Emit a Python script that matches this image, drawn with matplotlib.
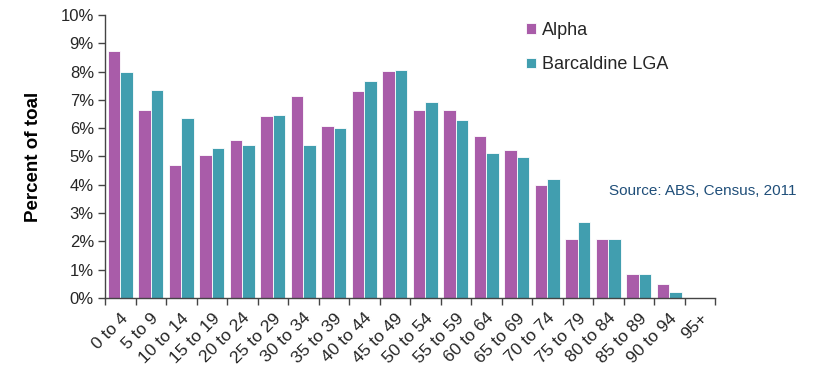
import matplotlib
matplotlib.use("Agg")
import matplotlib.pyplot as plt
import numpy as np
from matplotlib.ticker import FuncFormatter, MultipleLocator

plt.rcParams['font.family'] = ['Liberation Sans', 'DejaVu Sans']

age_groups = ["0 to 4", "5 to 9", "10 to 14", "15 to 19", "20 to 24", "25 to 29",
              "30 to 34", "35 to 39", "40 to 44", "45 to 49", "50 to 54", "55 to 59",
              "60 to 64", "65 to 69", "70 to 74", "75 to 79", "80 to 84", "85 to 89",
              "90 to 94", "95+"]
alpha_pct = [8.72, 6.64, 4.70, 5.05, 5.58, 6.43, 7.14, 6.08, 7.31, 8.02,
             6.64, 6.64, 5.72, 5.23, 3.99, 2.08, 2.08, 0.85, 0.49, 0.0]
barcaldine_pct = [7.98, 7.35, 6.36, 5.30, 5.41, 6.47, 5.41, 6.00, 7.67, 8.06,
                  6.93, 6.29, 5.12, 4.98, 4.20, 2.69, 2.08, 0.85, 0.22, 0.0]

purple = "#A95CA9"
teal = "#419EAF"
text_col = "#262626"

fig = plt.figure(figsize=(8.23, 3.71), dpi=100)
ax = fig.add_axes([0.1276, 0.1968, 0.7412, 0.7628])

n = len(age_groups)
centers = np.arange(n) + 0.5
w = 0.41
ax.bar(centers - w / 2, alpha_pct, width=w, color=purple, edgecolor="white",
       linewidth=0.6, label="Alpha")
ax.bar(centers + w / 2, barcaldine_pct, width=w, color=teal, edgecolor="white",
       linewidth=0.6, label="Barcaldine LGA")

ax.set_xlim(0, n)
ax.set_ylim(0, 10)
ax.yaxis.set_major_locator(MultipleLocator(1))
ax.yaxis.set_major_formatter(FuncFormatter(lambda v, p: f"{int(round(v))}%"))

ax.set_xticks(centers)
ax.set_xticklabels(age_groups, rotation=45, ha="right", rotation_mode="anchor",
                   fontsize=12.5, color=text_col)
ax.set_xticks(np.arange(n + 1), minor=True)
ax.tick_params(axis="x", which="major", length=0, pad=9)
ax.tick_params(axis="x", which="minor", length=5, width=1, direction="out", color="#444444")
ax.tick_params(axis="y", length=5, width=1, direction="out", color="#444444",
               labelsize=12, labelcolor=text_col, pad=3)

for s in ("top", "right"):
    ax.spines[s].set_visible(False)
for s in ("left", "bottom"):
    ax.spines[s].set_color("#444444")
    ax.spines[s].set_linewidth(1.0)

ax.set_ylabel("Percent of toal", fontsize=13.5, fontweight="bold", color="black", labelpad=13)

leg = ax.legend(loc="upper left", bbox_to_anchor=(0.663, 1.032), frameon=False,
                fontsize=13, handlelength=0.55, handleheight=0.55, handletextpad=0.35,
                labelspacing=0.95, labelcolor=text_col)

fig.text(0.7395, 1 - 191 / 371, "Source: ABS, Census, 2011", fontsize=11,
         color="#1F4E79", va="center")

fig.savefig("out.png", dpi=100)
